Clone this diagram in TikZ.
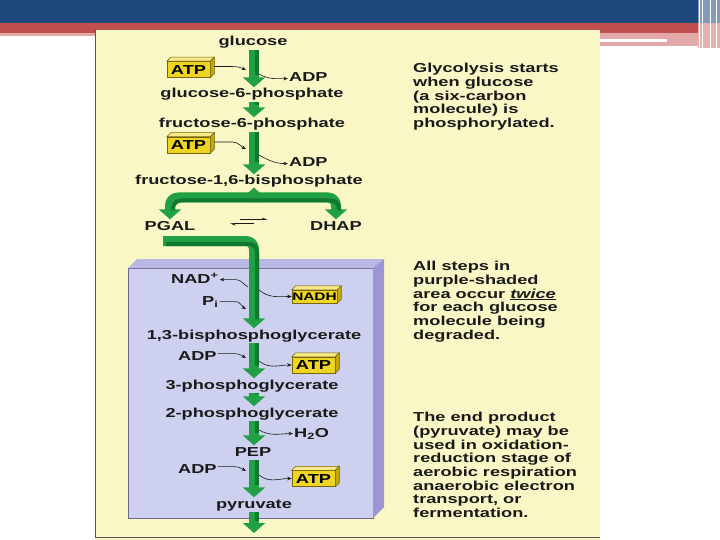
\documentclass[tikz,border=0pt]{standalone}
\usepackage{fontspec}
\setmainfont[FakeStretch=1.4]{Liberation Sans}
\usetikzlibrary{arrows.meta,calc}
\definecolor{slideblue}{HTML}{1F497D}
\definecolor{slidered}{HTML}{C0504D}
\definecolor{slidepink}{HTML}{E3A9A8}
\definecolor{panel}{HTML}{F9F7C6}
\definecolor{boxfront}{HTML}{CDD0EE}
\definecolor{boxtop}{HTML}{BCB8E4}
\definecolor{boxside}{HTML}{9E95D4}
\definecolor{gmain}{HTML}{22A046}
\definecolor{gdark}{HTML}{11782F}
\definecolor{yfront}{HTML}{EFD523}
\definecolor{ytop}{HTML}{F6E98A}
\definecolor{yside}{HTML}{C4A70E}
\definecolor{ink}{HTML}{1A1A1A}
\newcommand\cubefaces[1]{%
  \fill[ytop, draw=yside!60!black, line width=0.5pt] (#1.north west) -- ++(4,-4) -- ($(#1.north east)+(4,-4)$) -- (#1.north east) -- cycle;
  \fill[yside, draw=yside!60!black, line width=0.5pt] (#1.north east) -- ++(4,-4) -- ($(#1.south east)+(4,-4)$) -- (#1.south east) -- cycle;}
\newcommand\gstep[2]{%
  \draw[bigarrow] (#1.south -| sx) -- (#2.north -| sx);
  \draw[shadeline, transform canvas={xshift=3pt}] (#1.south -| sx) -- (#2.north -| sx);}
\begin{document}
\begin{tikzpicture}[x=1pt,y=-1pt,
  font=\fontsize{13}{13.7}\selectfont\bfseries, text=ink,
  lbl/.style={inner sep=1pt, text height=9.5pt, text depth=2.7pt, anchor=base},
  lbll/.style={lbl, anchor=base west},
  ybox/.style={draw=yside!60!black, line width=0.5pt, fill=yfront, inner sep=0pt,
    minimum width=43pt, minimum height=16pt, text height=9.5pt, text depth=0pt, text=black},
  bigarrow/.style={draw=gmain, line width=10pt, -{Triangle[length=10pt,width=22pt]}},
  shadeline/.style={draw=gdark, line width=4pt, shorten >=12pt},
  thinarrow/.style={draw=ink, line width=0.6pt, -{Stealth[length=4.5pt,width=3.5pt]}},
  note/.style={align=left, anchor=north west, inner sep=0pt}
]
\useasboundingbox (0,0) rectangle (720,540);
% slide background
\fill[white] (0,0) rectangle (720,540);
\fill[slideblue] (0,0) rectangle (720,23);
\fill[slidered] (0,23) rectangle (698,33);
\fill[slidepink] (0,33) rectangle (95,36);
\fill[slidepink] (600,33) rectangle (698,46);
\fill[white] (600,39) rectangle (667,42);
\fill[slideblue!55!white] (698,0) rectangle (720,23);
\fill[slidered!45!white] (698,23) rectangle (720,48);
\foreach \x in {699,702,710,716} \draw[white, line width=0.8pt] (\x,0) -- (\x,48);
% yellow panel
\fill[panel] (95,30) rectangle (600,540);
\draw[gray!70!black, line width=1pt] (95.5,30) -- (95.5,537.5) -- (600,537.5);
% purple box
\fill[boxfront, draw=boxside!70!black, line width=0.4pt] (128,268) rectangle (373,518);
\fill[boxtop] (128,268) -- (137,259) -- (384,259) -- (373,268) -- cycle;
\fill[boxside] (373,268) -- (384,259) -- (384,507) -- (373,518) -- cycle;

% labels
\coordinate (sx) at (254,0);
\node[lbl] (glc) at (253,46) {glucose};
\node[lbl] (g6p) at (252,98) {glucose-6-phosphate};
\node[lbl] (f6p) at (252,128) {fructose-6-phosphate};
\node[lbl] (f16) at (249,185) {fructose-1,6-bisphosphate};
\node[lbl] (pgal) at (170,230) {PGAL};
\node[lbl] (dhap) at (336,230) {DHAP};
\node[lbll] (nad) at (170,283) {NAD\textsuperscript{+}};
\node[lbll] (pi) at (201,305) {P\textsubscript{i}};
\node[lbl] (bpg) at (254,339) {1,3-bisphosphoglycerate};
\node[lbll] (adp2) at (177,360) {ADP};
\node[lbl] (pg3) at (252,389) {3-phosphoglycerate};
\node[lbl] (pg2) at (252,417) {2-phosphoglycerate};
\node[lbll] (h2o) at (293,437) {H\textsubscript{2}O};
\node[lbl] (pep) at (253,456) {PEP};
\node[lbll] (adp3) at (177,473) {ADP};
\node[lbl] (pyr) at (254,508) {pyruvate};
\node[lbll] (adp0) at (288,82) {ADP};
\node[lbll] (adp1) at (288,167) {ADP};
\coordinate (pyrend) at (254,533);

% yellow boxes
\node[ybox] (atp0) at (188.5,69.5) {ATP};
\node[ybox] (atp1) at (188.5,145) {ATP};
\node[ybox] (atp2) at (313.5,365) {ATP};
\node[ybox] (atp3) at (313.5,478.5) {ATP};
\node[ybox, minimum width=45pt, minimum height=13pt, font=\fontsize{11}{12}\selectfont\bfseries, text height=8pt] (nadh) at (314.5,296.5) {NADH};
\cubefaces{atp0}\cubefaces{atp1}\cubefaces{atp2}\cubefaces{atp3}\cubefaces{nadh}

% main green arrows
\gstep{glc}{g6p}
\gstep{g6p}{f6p}
\gstep{f6p}{f16}
\gstep{bpg}{pg3}
\gstep{pg3}{pg2}
\gstep{pg2}{pep}
\gstep{pep}{pyr}
\gstep{pyr}{pyrend}

% split
\coordinate (split) at (254,197.5);
\fill[gmain] (248,193) -- (254,187.5) -- (260,193) -- cycle;
\draw[bigarrow, rounded corners=8pt] (split) -| (pgal.north);
\draw[bigarrow, rounded corners=8pt] (split) -| (dhap.north);
\draw[shadeline, rounded corners=8pt, transform canvas={xshift=3pt,yshift=-3pt}] (split) -| (pgal.north);
\draw[shadeline, rounded corners=8pt, transform canvas={xshift=3pt,yshift=-3pt}] (split) -| (dhap.north);

% PGAL into purple box
\coordinate (pgalout) at (163,241);
\draw[bigarrow, rounded corners=8pt] (pgalout) -| (bpg.north -| sx);
\draw[shadeline, rounded corners=8pt, transform canvas={xshift=3pt,yshift=-3pt}] (pgalout) -| (bpg.north -| sx);

% equilibrium arrows
\coordinate (eqm) at ($(pgal.east)!0.5!(dhap.west)$);
\draw[thinarrow, -{Stealth[harpoon,length=5pt,width=4pt]}] ($(eqm)+(-13,-7)$) -- ($(eqm)+(15,-7)$);
\draw[thinarrow, -{Stealth[harpoon,length=5pt,width=4pt]}] ($(eqm)+(1,-3)$) -- ($(eqm)+(-23,-3)$);

% thin side arrows
\coordinate (in0) at (246,70);
\draw[thinarrow] ($(atp0.east)+(4,-3)$) -- ++(18,0) to[out=0,in=155] (in0);
\coordinate (out0) at (259,74);
\draw[thinarrow] (out0) to[out=-30,in=180] (adp0.west);
\coordinate (in1) at (246,149);
\draw[thinarrow] ($(atp1.east)+(4,-3)$) -- ++(18,0) to[out=0,in=155] (in1);
\coordinate (out1) at (259,155);
\draw[thinarrow] (out1) to[out=-30,in=180] (adp1.west);
\coordinate (nadsrc) at (248,287);
\draw[thinarrow] (nadsrc) to[out=150,in=0] ($(nad.east)+(16,0)$) -- (nad.east);
\coordinate (nadhsrc) at (259,290);
\draw[thinarrow] (nadhsrc) to[out=-40,in=180] (nadh.west);
\coordinate (pidst) at (246,309);
\draw[thinarrow] (pi.east) -- ++(16,0) to[out=0,in=150] (pidst);
\coordinate (in2) at (246,358);
\draw[thinarrow] ($(adp2.east)+(0,-3)$) -- ++(16,0) to[out=0,in=150] (in2);
\coordinate (out2) at (259,361);
\draw[thinarrow] (out2) to[out=-40,in=180] (atp2.west);
\coordinate (out3) at (259,430);
\draw[thinarrow] (out3) to[out=-30,in=180] (h2o.west);
\coordinate (in4) at (246,471);
\draw[thinarrow] ($(adp3.east)+(0,-3)$) -- ++(16,0) to[out=0,in=150] (in4);
\coordinate (out4) at (259,475);
\draw[thinarrow] (out4) to[out=-40,in=180] (atp3.west);

% notes
\node[note] (n1) at (413,63) {Glycolysis starts\\when glucose\\(a six-carbon\\molecule) is\\phosphorylated.};
\node[note] (n2) at (413,261) {All steps in\\purple-shaded\\area occur \underline{\textit{twice}}\\for each glucose\\molecule being\\degraded.};
\node[note] (n3) at (413,412) {The end product\\(pyruvate) may be\\used in oxidation-\\reduction stage of\\aerobic respiration\\anaerobic electron\\transport, or\\fermentation.};
\end{tikzpicture}
\end{document}
